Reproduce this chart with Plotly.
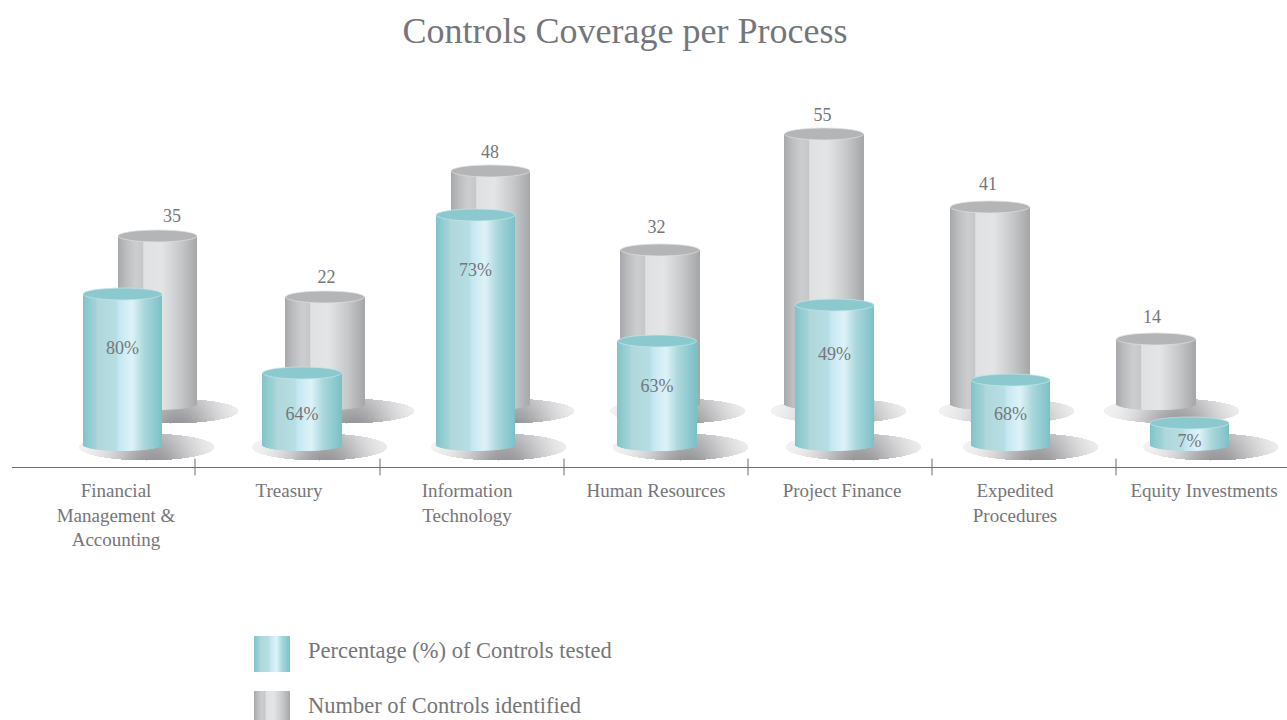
import numpy as np
import plotly.graph_objects as go

# ---- data ----
categories = ["Financial<br>Management &<br>Accounting", "Treasury", "Information<br>Technology",
              "Human Resources", "Project Finance", "Expedited<br>Procedures", "Equity Investments"]
controls_identified = [35, 22, 48, 32, 55, 41, 14]
pct_tested = [80, 64, 73, 63, 49, 68, 7]
# drawn heights of the (hand-drawn) cylinders, in controls
identified_height = [34.6, 22.4, 47.6, 31.8, 55.0, 40.4, 14.0]
tested_height = [30.2, 14.4, 46.0, 20.8, 28.0, 13.0, 4.4]

# ---- layout (pixel-like x units, 5 px per y unit) ----
W, H = 1287, 720
AXIS_PX, LEFT_PX = 467, 12
def yu(p):
    return (409 - np.asarray(p, float)) / 5.0

grey_x = [157.5, 325, 490.5, 660, 824, 990, 1156]
teal_x = [122.5, 302, 475.5, 657, 834.5, 1010.5, 1189.5]
grey_shadow_x = [170, 346, 506, 677, 838, 1006, 1171]
teal_shadow_x = [146, 319, 498, 680, 853, 1030, 1210]
grey_label_x = [172, 326.5, 490, 656.5, 822.5, 988, 1152]
grey_label_y = [217, 278, 153, 228, 116, 185, 318]
teal_label_y = [349, 415, 271, 387, 355, 415, 442]
cat_label_x = [116, 289, 467, 656, 842, 1015, 1204]
boundaries = [195, 380, 564, 748, 932, 1116]
BAR_W = 79
GREY_FLOOR, TEAL_FLOOR = 404, 445
LINE = "#6d6e71"
TEXT = "#75767a"
FONT = "Liberation Serif"

teal_stops = [(0, "#7fc4ca"), (.1, "#96cfd3"), (.16, "#a2d3d7"), (.18, "#b0d8dc"), (.42, "#b6dee3"),
              (.45, "#c3e7f2"), (.62, "#dff3f9"), (.78, "#a9d7db"), (1, "#7cc1c8")]
grey_stops = [(0, "#a8a9ac"), (.1, "#bcbdbf"), (.22, "#cdced0"), (.315, "#c6c7c9"), (.325, "#e0e1e3"),
              (.55, "#e4e5e7"), (.8, "#c6c7c9"), (1, "#a6a7aa")]

def ramp(stops, n):
    ts = [s[0] for s in stops]
    rgb = np.array([[int(s[1][i:i + 2], 16) for i in (1, 3, 5)] for s in stops], float)
    u = (np.arange(n) + .5) / n
    return ["rgb(%d,%d,%d)" % tuple(np.interp(t, ts, rgb[:, c]) for c in range(3)) for t in u]

fig = go.Figure()

def shadow(cx, cy_px, rx, ry_px):
    xs = np.arange(cx - rx, cx + rx + 1)
    ps = np.arange(cy_px - ry_px, cy_px + ry_px + 1)
    nx, ny = np.meshgrid((xs - cx) / rx, (ps - cy_px) / ry_px)
    dark = (0.12 + 0.88 * np.exp(-((nx - 0.1) / 0.6) ** 2)) * (0.65 + 0.35 * (ny + 1) / 2)
    z = 1 - dark
    z[nx ** 2 + ny ** 2 > 1] = np.nan
    fig.add_trace(go.Heatmap(x=xs, y=yu(ps), z=z, zmin=0, zmax=1, showscale=False, hoverinfo="skip",
                             colorscale=[[0, "#959599"], [1, "#ffffff"]]))

for c in grey_shadow_x:
    shadow(c, 410.5, 68, 12.5)
for c in teal_shadow_x:
    shadow(c, 446.5, 68, 13.5)

grey_tops = list(identified_height)
teal_tops = [float(yu(TEAL_FLOOR)) + h for h in tested_height]

def cylinder(xs, tops, floor_px, stops):
    colors = ramp(stops, BAR_W)
    floor = float(yu(floor_px))
    ry = 6 / 5.0
    for k, col in enumerate(colors):
        off = k - BAR_W / 2
        u = (k + .5 - BAR_W / 2) / (BAR_W / 2)
        base = floor - ry * np.sqrt(1 - u * u)
        fig.add_trace(go.Bar(x=xs, y=[t - base for t in tops], base=base, width=1, offset=off,
                             marker=dict(color=col, line=dict(width=0)), hoverinfo="skip", showlegend=False))

cylinder(grey_x, grey_tops, GREY_FLOOR, grey_stops)
cylinder(teal_x, teal_tops, TEAL_FLOOR, teal_stops)

shapes = []
def caps(xs, tops, fill, edge):
    for x, top in zip(xs, tops):
        shapes.append(dict(type="circle", xref="x", yref="y", x0=x - BAR_W / 2, x1=x + BAR_W / 2,
                           y0=top - 1.2, y1=top + 1.2, fillcolor=fill, line=dict(color=edge, width=0.7)))
caps(grey_x, grey_tops, "#b4b5b7", "#e0e0e2")
caps(teal_x, teal_tops, "#8cc9cf", "#c4e5e8")

# data labels
fig.add_trace(go.Scatter(x=grey_label_x, y=yu(grey_label_y), mode="text", text=[str(v) for v in controls_identified],
                         textposition="middle center", textfont=dict(family=FONT, size=18, color=TEXT),
                         hoverinfo="skip", showlegend=False))
fig.add_trace(go.Scatter(x=teal_x, y=yu(teal_label_y), mode="text", text=[f"{v}%" for v in pct_tested],
                         textposition="middle center", textfont=dict(family=FONT, size=18, color=TEXT),
                         hoverinfo="skip", showlegend=False))
# axis tick marks crossing the line
fig.add_trace(go.Scatter(x=boundaries, y=[float(yu(AXIS_PX))] * len(boundaries), mode="markers", cliponaxis=False,
                         marker=dict(symbol="line-ns", size=12, color=LINE, line=dict(color=LINE, width=1)),
                         hoverinfo="skip", showlegend=False))

# legend
def px(x):
    return (x - LEFT_PX) / (W - LEFT_PX)
def py(y):
    return (AXIS_PX - y) / AXIS_PX

legend_items = [("Percentage (%) of Controls tested", teal_stops, 636, 651),
                ("Number of Controls identified", grey_stops, 691, 706)]
annotations = []
for label, stops, top, mid in legend_items:
    for k, col in enumerate(ramp(stops, 36)):
        shapes.append(dict(type="rect", xref="paper", yref="paper", x0=px(254 + k), x1=px(255 + k),
                           y0=py(top + 36), y1=py(top), fillcolor=col, line=dict(width=0)))
    annotations.append(dict(xref="paper", yref="paper", x=px(306), y=py(mid), text=label, showarrow=False,
                            xanchor="left", yanchor="middle", font=dict(family=FONT, size=22.5, color=TEXT)))

fig.update_layout(
    width=W, height=H, autosize=False, paper_bgcolor="white", plot_bgcolor="white",
    margin=dict(l=LEFT_PX, r=0, t=0, b=H - AXIS_PX, pad=0),
    barmode="overlay", showlegend=False,
    title=dict(text="Controls Coverage per Process", x=px(625), xanchor="center", xref="paper",
               y=1 - 30 / H, yanchor="middle", yref="container", font=dict(family=FONT, size=36, color=TEXT)),
    xaxis=dict(range=[LEFT_PX, W], tickmode="array", tickvals=cat_label_x, ticktext=categories, ticks="",
               showgrid=False, zeroline=False, showline=True, linecolor=LINE, linewidth=1,
               tickangle=0, tickfont=dict(family=FONT, size=19, color=TEXT), ticklabelstandoff=6),
    yaxis=dict(range=[float(yu(AXIS_PX)), float(yu(0))], visible=False, showgrid=False, zeroline=False),
    shapes=shapes, annotations=annotations,
)
fig.write_html("out.html", config=dict(displayModeBar=False),
               post_script="document.body.style.margin='0';document.body.style.overflow='hidden';")
